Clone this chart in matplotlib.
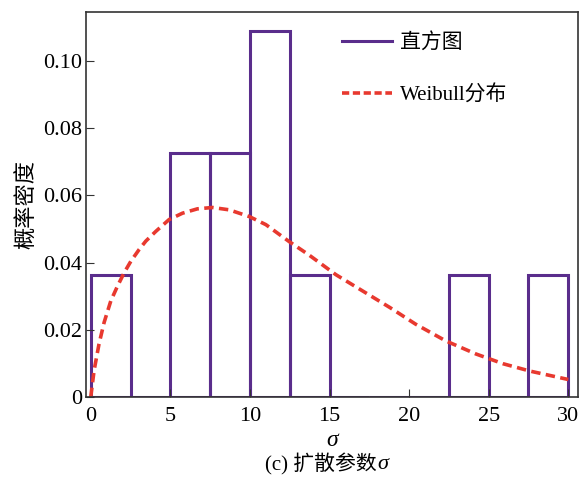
import numpy as np
import matplotlib.pyplot as plt
from matplotlib.lines import Line2D

plt.rcParams['font.family'] = ['Liberation Serif', 'Noto Sans CJK SC']

# 直方图 (bin edges and densities)
bin_edges = [0, 2.5, 5, 7.5, 10, 12.5, 15, 17.5, 20, 22.5, 25, 27.5, 30]
density = [0.0364, 0, 0.0727, 0.0727, 0.109, 0.0364, 0, 0, 0, 0.0364, 0, 0.0364]

# Weibull曲线
wb_x = [0, 0.21, 0.52, 0.84, 1.26, 1.68, 2.1, 2.52, 3.04, 3.46, 4.09, 4.92,
        5.76, 6.7, 7.65, 8.7, 9.96, 11.0, 12.48, 13.7, 15.4, 17.1, 18.8,
        20.4, 22.3, 24.2, 25.9, 27.6, 30.0]
wb_y = [0, 0.0079, 0.0158, 0.0222, 0.0286, 0.033, 0.037, 0.0404, 0.0439,
        0.0464, 0.0493, 0.0528, 0.0547, 0.056, 0.0564, 0.0557, 0.0537, 0.0513,
        0.0462, 0.0423, 0.0364, 0.0315, 0.0266, 0.0217, 0.0167, 0.0128,
        0.0099, 0.0077, 0.0052]

purple = '#5a2d8c'
red = '#e8392f'

fig = plt.figure(figsize=(5.79, 4.78), dpi=100)
ax = fig.add_axes([0.1485, 0.1695, 0.8495, 0.8055])

widths = np.diff(bin_edges)
ax.bar(bin_edges[:-1], density, width=widths, align='edge', fill=False,
       edgecolor=purple, linewidth=2.2)
ax.plot(wb_x, wb_y, color=red, linewidth=2.6, linestyle=(0, (2.6, 1.5)))

ax.set_xlim(-0.3, 30.6)
ax.set_ylim(0, 0.1146)
ax.set_xticks([0, 5, 10, 15, 20, 25, 30])
ax.set_xticklabels(['0', '5', '10', '15', '20', '25', '30'])
ax.set_yticks([0, 0.02, 0.04, 0.06, 0.08, 0.10])
ax.set_yticklabels(['0', '0.02', '0.04', '0.06', '0.08', '0.10'])
ax.tick_params(direction='in', length=6, labelsize=16, colors='#333333',
               labelcolor='black')
ax.tick_params(axis='x', pad=7)
ax.tick_params(axis='y', pad=3)
for s in ax.spines.values():
    s.set_color('#333333')
    s.set_linewidth(1.2)

ax.set_xlabel('σ', fontsize=17, style='italic', labelpad=3)
ax.set_ylabel('概率密度', fontsize=16, labelpad=4)

handles = [Line2D([], [], color=purple, linewidth=2.2),
           Line2D([], [], color=red, linewidth=2.6, linestyle=(0, (2.0, 1.0)))]
ax.legend(handles, ['直方图', 'Weibull分布'], loc='upper left',
          bbox_to_anchor=(342 / 579, 1 - 33 / 478), bbox_transform=fig.transFigure,
          frameon=False, fontsize=15, handlelength=2.4, handletextpad=0.4,
          labelspacing=1.55, borderpad=0, borderaxespad=0)

cap = fig.text(0.555, 0.028, '(c) 扩散参数', ha='center', va='center',
               fontsize=15)
ax.annotate('σ', xy=(1, 0.5), xycoords=cap, ha='left', va='center',
            fontsize=16, style='italic')

fig.savefig('out.png', dpi=100)
